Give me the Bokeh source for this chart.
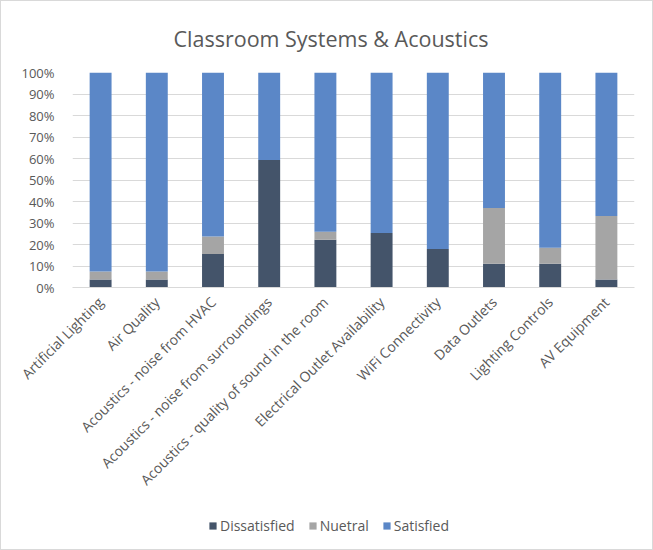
import math
from bokeh.plotting import figure
from bokeh.layouts import column
from bokeh.models import Legend, LegendItem, NumeralTickFormatter, FixedTicker, Range1d, FactorRange
from bokeh.embed import file_html
from bokeh.resources import INLINE

categories = ["Artificial Lighting", "Air Quality", "Acoustics - noise from HVAC",
              "Acoustics - noise from surroundings", "Acoustics - quality of sound in the room",
              "Electrical Outlet Availability", "WiFi Connectivity", "Data Outlets",
              "Lighting Controls", "AV Equipment"]
dissatisfied = [0.037, 0.037, 0.156, 0.593, 0.222, 0.254, 0.179, 0.111, 0.111, 0.037]
neutral = [0.037, 0.037, 0.081, 0.0, 0.037, 0.0, 0.0, 0.259, 0.074, 0.296]
satisfied = [round(1 - d - n, 3) for d, n in zip(dissatisfied, neutral)]
series = ["Dissatisfied", "Nuetral", "Satisfied"]
colors = ["#44546A", "#A5A5A5", "#5B87C7"]

data = dict(cat=categories, Dissatisfied=dissatisfied, Nuetral=neutral, Satisfied=satisfied)

FONT = "Open Sans"
TXT = "#595959"

p = figure(width=651, height=509, x_range=FactorRange(*categories), y_range=Range1d(0, 1),
           output_backend="svg", toolbar_location=None, title="Classroom Systems & Acoustics",
           min_border_left=71, min_border_right=18, min_border_top=70, min_border_bottom=223)
p.title.align = "left"
p.title.text_font = FONT
p.title.text_font_size = "21.5px"
p.title.text_font_style = "normal"
p.title.text_color = TXT
p.title.offset = 101
p.title.standoff = 40

renderers = p.vbar_stack(series, x="cat", width=0.39, color=colors, source=data, line_width=0)
p.x_range.range_padding = 0.0

p.yaxis.ticker = FixedTicker(ticks=[i / 10 for i in range(11)])
p.yaxis.formatter = NumeralTickFormatter(format="0%")
p.yaxis.axis_line_color = None
p.yaxis.major_tick_line_color = None
p.yaxis.minor_tick_line_color = None
p.yaxis.major_label_text_font = FONT
p.yaxis.major_label_text_font_size = "13px"
p.yaxis.major_label_text_color = TXT
p.yaxis.major_label_standoff = 12

p.xaxis.axis_line_color = "#D9D9D9"
p.xaxis.major_tick_line_color = None
p.xaxis.minor_tick_line_color = None
p.xaxis.major_label_orientation = math.pi / 4
p.xaxis.major_label_text_font = FONT
p.xaxis.major_label_text_font_size = "14px"
p.xaxis.major_label_text_color = TXT
p.xaxis.major_label_standoff = 6

p.xgrid.grid_line_color = None
p.ygrid.grid_line_color = "#D9D9D9"
p.outline_line_color = None

# legend strip below the chart: same stacked series, with a y range that keeps the bars out of view
q = figure(width=651, height=39, x_range=FactorRange(*categories), y_range=Range1d(2, 3),
           output_backend="svg", toolbar_location=None,
           min_border_left=0, min_border_right=0, min_border_top=0, min_border_bottom=0)
q.axis.visible = False
q.grid.visible = False
q.outline_line_color = None
leg_renderers = q.vbar_stack(series, x="cat", width=0.39, color=colors, source=data, line_width=0)

legend = Legend(items=[LegendItem(label=s, renderers=[r]) for s, r in zip(series, leg_renderers)],
                orientation="horizontal", location=(136, 14),
                label_text_font=FONT, label_text_font_size="14px", label_text_color=TXT,
                glyph_width=9, glyph_height=9, spacing=13, label_standoff=3,
                padding=0, margin=0,
                background_fill_alpha=0, border_line_color=None)
q.add_layout(legend, "center")

layout = column(p, q, spacing=0, styles={"border": "1px solid #D9D9D9"})

open("out.html", "w").write(file_html(layout, INLINE))
